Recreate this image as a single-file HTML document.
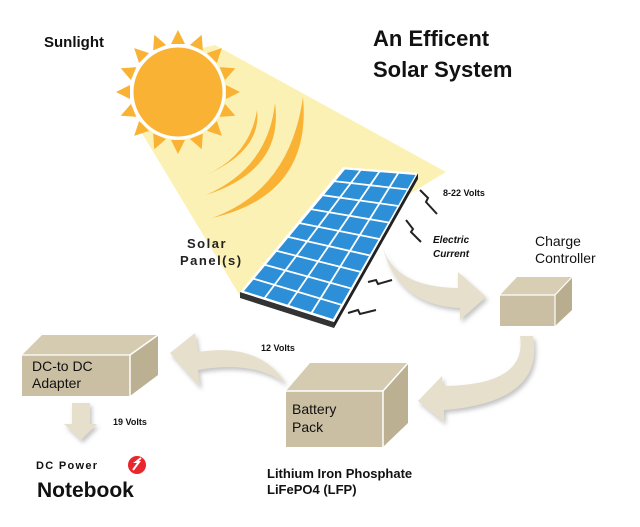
<!DOCTYPE html>
<html><head><style>
body{margin:0;background:#fff;}
svg{display:block;font-family:"Liberation Sans",sans-serif;}
</style></head><body>
<svg width="640" height="527" viewBox="0 0 640 527" xmlns="http://www.w3.org/2000/svg">
<defs>
<filter id="sh" x="-20%" y="-20%" width="140%" height="140%"><feDropShadow dx="2" dy="3" stdDeviation="2" flood-color="#888" flood-opacity="0.5"/></filter>
</defs>
<polygon points="150,60 215,45 446,172 240,296 140,130" fill="#fcf1b4"/>
<g fill="#f9b233">
<polygon id="r" points="178,30 185,44 171,44"/>
<use href="#r" transform="rotate(22.5 178 92)"/>
<use href="#r" transform="rotate(45 178 92)"/>
<use href="#r" transform="rotate(67.5 178 92)"/>
<use href="#r" transform="rotate(90 178 92)"/>
<use href="#r" transform="rotate(112.5 178 92)"/>
<use href="#r" transform="rotate(135 178 92)"/>
<use href="#r" transform="rotate(157.5 178 92)"/>
<use href="#r" transform="rotate(180 178 92)"/>
<use href="#r" transform="rotate(202.5 178 92)"/>
<use href="#r" transform="rotate(225 178 92)"/>
<use href="#r" transform="rotate(247.5 178 92)"/>
<use href="#r" transform="rotate(270 178 92)"/>
<use href="#r" transform="rotate(292.5 178 92)"/>
<use href="#r" transform="rotate(315 178 92)"/>
<use href="#r" transform="rotate(337.5 178 92)"/>
</g>
<circle cx="178" cy="92" r="46" fill="#f9b233" stroke="#fff" stroke-width="3"/>
<g fill="#f9b233">
<path d="M206,175 Q250,155 257,110 Q262,150 206,175 Z"/>
<path d="M206,195 Q268,168 275,103 Q284,170 206,195 Z"/>
<path d="M212,218 Q290,190 303,97 Q312,195 212,218 Z"/>
</g>
<!-- panel -->
<polygon points="240,292 334,322 334,328 240,298" fill="#333"/>
<polygon points="334,322 418,173 418,179 334,328" fill="#222"/>
<polygon points="343,167 418,173 334,322 240,292" fill="#fff"/>
<polygon points="345,169.5 415.5,175 333,319 244,291" fill="#2d8fd8"/>
<g stroke="#fff" stroke-width="1.8">
<line x1="361.75" y1="168.5" x2="263.5" y2="299.5"/>
<line x1="380.5" y1="170" x2="287" y2="307"/>
<line x1="399.25" y1="171.5" x2="310.5" y2="314.5"/>
<line x1="331.6" y1="180.9" x2="408.7" y2="189.6"/>
<line x1="320.1" y1="194.8" x2="399.3" y2="206.1"/>
<line x1="308.7" y1="208.7" x2="390" y2="222.7"/>
<line x1="297.2" y1="222.6" x2="380.7" y2="239.2"/>
<line x1="285.8" y1="236.4" x2="371.3" y2="255.8"/>
<line x1="274.3" y1="250.3" x2="362" y2="272.3"/>
<line x1="262.9" y1="264.2" x2="352.7" y2="288.9"/>
<line x1="251.4" y1="278.1" x2="343.3" y2="305.4"/>
</g>
<g stroke="#222" stroke-width="2" fill="none">
<polyline points="420,190 428,198 426,202 437,214"/>
<polyline points="406,220 413,229 411,232 421,242"/>
<polyline points="368,282 376,280 378,284 392,280"/>
<polyline points="348,313 358,310 360,314 376,310"/>
</g>
<g fill="#e6dfcc" filter="url(#sh)">
<path d="M383,248 Q395,287 458,288 L458,272 L486,297 L460,320 L460,308 Q398,305 383,248 Z"/>
<path d="M520,336 Q528,385 443,386 L442,376 L418,401 L444,422 L444,410 Q545,402 533,336 Z"/>
<path d="M286,384 Q260,342 198,352 L195,333 L170,353 L200,387 L198,370 Q255,360 286,384 Z"/>
<path d="M72,403 L90,403 L90,424 L97,424 L81,440 L64,424 L72,424 Z"/>
</g>
<polygon points="500,295 517,277 572,277 555,295" fill="#d8ceb4"/>
<polygon points="555,295 572,277 572,310 555,326" fill="#b9ad8f"/>
<rect x="500" y="295" width="55" height="31" fill="#cbbfa3"/>
<line x1="500" y1="295" x2="555" y2="295" stroke="#fff" stroke-width="1.2"/>
<line x1="555" y1="295" x2="572" y2="277" stroke="#fff" stroke-width="1.2"/>
<line x1="555" y1="295" x2="555" y2="326" stroke="#fff" stroke-width="1.2"/>
<polygon points="22,355 42,335 158,335 130,355" fill="#d5cbb1"/>
<polygon points="130,355 158,335 158,375 130,396" fill="#bcb093"/>
<rect x="22" y="355" width="108" height="41" fill="#cbbfa3"/>
<line x1="22" y1="355" x2="130" y2="355" stroke="#fff" stroke-width="1.2"/>
<line x1="130" y1="355" x2="158" y2="335" stroke="#fff" stroke-width="1.5"/>
<line x1="130" y1="355" x2="130" y2="396" stroke="#fff" stroke-width="1.5"/>
<polygon points="286,391 310,363 408,363 383,391" fill="#d5cbb1"/>
<polygon points="383,391 408,363 408,423 383,447" fill="#bcb093"/>
<rect x="286" y="391" width="97" height="56" fill="#cbbfa3"/>
<line x1="286" y1="391" x2="383" y2="391" stroke="#fff" stroke-width="1.5"/>
<line x1="383" y1="391" x2="408" y2="363" stroke="#fff" stroke-width="1.5"/>
<line x1="383" y1="391" x2="383" y2="447" stroke="#fff" stroke-width="1.5"/>
<text x="44" y="47" font-size="15" font-weight="bold" fill="#111">Sunlight</text>
<text x="373" y="46" font-size="22" font-weight="bold" fill="#111">An Efficent</text>
<text x="373" y="77" font-size="22" font-weight="bold" fill="#111">Solar System</text>
<text x="187" y="248" font-size="13" font-weight="bold" fill="#222" letter-spacing="1.5">Solar</text>
<text x="180" y="265" font-size="13" font-weight="bold" fill="#222" letter-spacing="1.5">Panel(s)</text>
<text x="443" y="196" font-size="9" font-weight="bold" fill="#111">8-22 Volts</text>
<text x="433" y="243" font-size="10" font-style="italic" font-weight="bold" fill="#111">Electric</text>
<text x="433" y="257" font-size="10" font-style="italic" font-weight="bold" fill="#111">Current</text>
<text x="535" y="246" font-size="14" fill="#111">Charge</text>
<text x="535" y="263" font-size="14" fill="#111">Controller</text>
<text x="261" y="351" font-size="9" font-weight="bold" fill="#111">12 Volts</text>
<text x="32" y="371" font-size="14" fill="#111">DC-to DC</text>
<text x="32" y="388" font-size="14" fill="#111">Adapter</text>
<text x="113" y="425" font-size="9" font-weight="bold" fill="#111">19 Volts</text>
<text x="292" y="414" font-size="14" fill="#111">Battery</text>
<text x="292" y="432" font-size="14" fill="#111">Pack</text>
<text x="267" y="478" font-size="13" font-weight="bold" fill="#111">Lithium Iron Phosphate</text>
<text x="267" y="494" font-size="13" font-weight="bold" fill="#111">LiFePO4 (LFP)</text>
<text x="36" y="469" font-size="11" font-weight="bold" fill="#111" letter-spacing="1.3">DC Power</text>
<circle cx="137" cy="465" r="9" fill="#e8262c"/>
<path d="M133,470 L139,462 L136,462 L141,458" stroke="#fff" stroke-width="2" fill="none"/>
<text x="37" y="497" font-size="21" font-weight="bold" fill="#111">Notebook</text>
</svg>
</body></html>
